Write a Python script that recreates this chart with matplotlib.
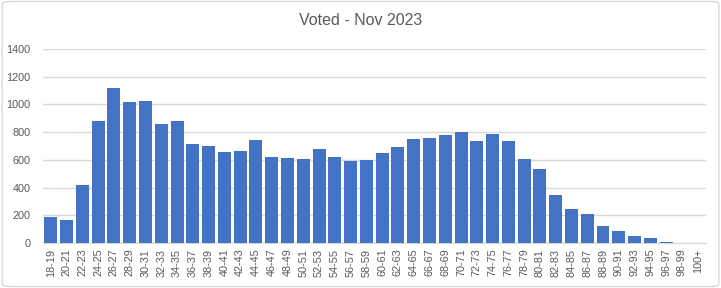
import matplotlib
matplotlib.use("Agg")
import matplotlib.pyplot as plt
from matplotlib.patches import FancyBboxPatch

# age groups
ages = [f"{a}-{a + 1}" for a in range(18, 100, 2)] + ["100+"]

# voters per age group
voted = [185, 164, 417, 880, 1118, 1017, 1024, 858, 880, 713,
         699, 655, 663, 742, 619, 612, 605, 677, 619, 590,
         598, 648, 692, 749, 757, 778, 800, 735, 786, 735,
         605, 533, 345, 243, 207, 120, 84, 48, 34, 8,
         1, 0]

yticks = [0, 200, 400, 600, 800, 1000, 1200, 1400]

plt.rcParams['font.family'] = ['Liberation Sans', 'DejaVu Sans']

fig = plt.figure(figsize=(7.21, 2.88), dpi=100)
ax = fig.add_axes([0.0596, 0.156, 0.919, 0.674])

x = range(len(ages))
ax.bar(x, voted, width=0.82, color="#4472C4", zorder=3)

ax.set_xlim(-0.5, len(ages) - 0.5)
ax.set_ylim(0, 1400)
ax.set_yticks(yticks)
ax.set_xticks(list(x))
ax.set_xticklabels(ages, rotation=90, fontsize=7.8, color="#595959")
ax.tick_params(axis="y", labelsize=7.8, labelcolor="#595959", length=0, pad=9)
ax.tick_params(axis="x", length=0, pad=4)
ax.grid(axis="y", color="#d9d9d9", linewidth=1, zorder=0)
for s in ["top", "right", "left"]:
    ax.spines[s].set_visible(False)
ax.spines["bottom"].set_color("#d9d9d9")

fig.text(0.5, 0.928, "Voted - Nov 2023", ha="center", va="center",
         fontsize=11.5, color="#595959")

border = FancyBboxPatch((0.003, 0.005), 0.994, 0.99, boxstyle="round,pad=0,rounding_size=0.01",
                        transform=fig.transFigure, fill=False, edgecolor="#d9d9d9", linewidth=1)
fig.patches.append(border)

fig.savefig("out.png", dpi=100)
